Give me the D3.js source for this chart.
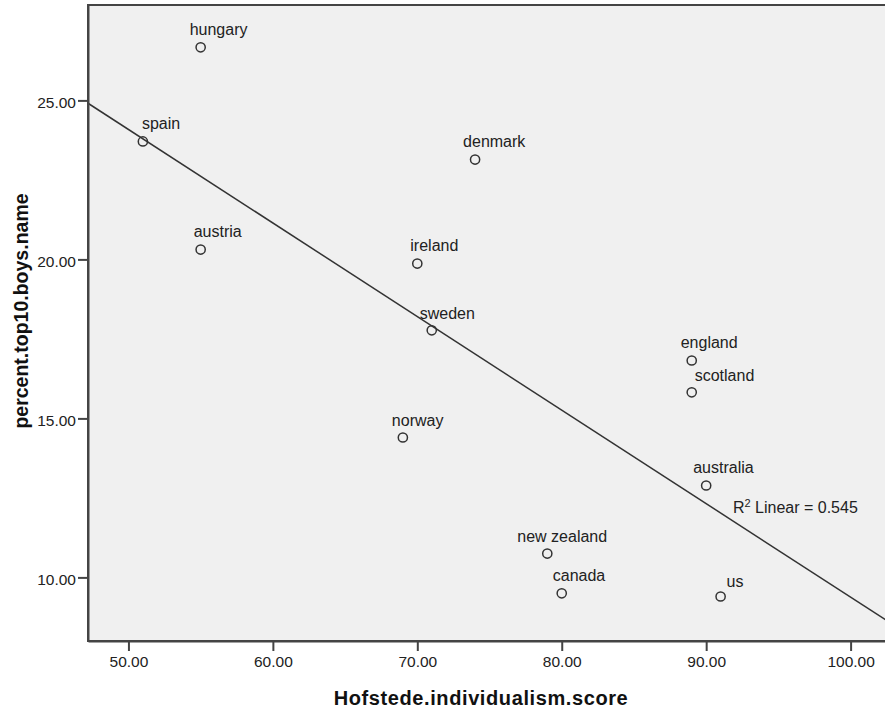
<!DOCTYPE html>
<html>
<head>
<meta charset="utf-8">
<script src="https://cdn.jsdelivr.net/npm/d3@7/dist/d3.min.js"></script>
<style>
  html, body { margin: 0; padding: 0; background: #ffffff; }
  svg { display: block; font-family: "Liberation Sans", Arial, sans-serif; }
</style>
</head>
<body>
<svg id="chart" width="885" height="710"></svg>
<script>
// ---- data ----
const countries = ["hungary", "spain", "austria", "denmark", "ireland", "sweden", "norway",
                   "england", "scotland", "australia", "new zealand", "canada", "us"];
const individualism = [55, 51, 55, 74, 70, 71, 69, 89, 89, 90, 79, 80, 91];
const percentTop10 = [26.67, 23.71, 20.31, 23.14, 19.87, 17.77, 14.40, 16.82, 15.82, 12.89, 10.75, 9.50, 9.40];
const xTicks = [50, 60, 70, 80, 90, 100];
const yTicks = [10, 15, 20, 25];
const xTitle = "Hofstede.individualism.score";
const yTitle = "percent.top10.boys.name";

// label placement offsets (pixels, relative to marker centre)
const labelDx = [-11, -1, -7, -12, -7, -12, -11, -11, 3, -13, -30, -9, 6];
const labelDy = [-12.5, -12.5, -12.5, -12.5, -12.5, -11.5, -11.5, -12.5, -11.5, -12, -11.5, -12, -9.5];

// ---- layout ----
const svg = d3.select("#chart");
const plotL = 88, plotR = 887, plotT = 5, plotB = 641;

const x = d3.scaleLinear().domain([47.2, 102.52]).range([plotL, plotR]);
const y = d3.scaleLinear().domain([8, 28]).range([plotB, plotT]);

const textColor = "#222222";
const lineColor = "#444444";

// plot background
svg.append("rect")
  .attr("x", plotL).attr("y", plotT)
  .attr("width", plotR - plotL).attr("height", plotB - plotT)
  .attr("fill", "#f0f0f0")
  .attr("stroke", lineColor).attr("stroke-width", 2);

// regression (least squares)
const pts = individualism.map((v, i) => [v, percentTop10[i]]);
const mx = d3.mean(individualism), my = d3.mean(percentTop10);
const sxy = d3.sum(pts, p => (p[0] - mx) * (p[1] - my));
const sxx = d3.sum(pts, p => (p[0] - mx) ** 2);
const syy = d3.sum(pts, p => (p[1] - my) ** 2);
const slope = sxy / sxx, intercept = my - slope * mx;
const r2 = (sxy * sxy) / (sxx * syy);

const [x0, x1] = x.domain();
svg.append("line")
  .attr("x1", x(x0)).attr("y1", y(intercept + slope * x0))
  .attr("x2", x(x1)).attr("y2", y(intercept + slope * x1))
  .attr("stroke", "#333333").attr("stroke-width", 1.5);

// axes
const fmt = d3.format(".2f");
const xAxis = svg.append("g")
  .attr("transform", `translate(0,${plotB})`)
  .call(d3.axisBottom(x).tickValues(xTicks).tickFormat(fmt).tickSize(10).tickPadding(5).tickSizeOuter(0));
const yAxis = svg.append("g")
  .attr("transform", `translate(${plotL},0)`)
  .call(d3.axisLeft(y).tickValues(yTicks).tickFormat(fmt).tickSize(10).tickPadding(2).tickSizeOuter(0));

[xAxis, yAxis].forEach(g => {
  g.select(".domain").attr("stroke", lineColor).attr("stroke-width", 2);
  g.selectAll(".tick line").attr("stroke", lineColor).attr("stroke-width", 2);
  g.selectAll(".tick text")
    .attr("fill", textColor)
    .style("font-size", "15.5px")
    .style("font-family", "'Liberation Sans', Arial, sans-serif");
});
yAxis.selectAll(".tick text").attr("dy", "0.45em");

// points
svg.append("g").selectAll("circle")
  .data(pts)
  .join("circle")
  .attr("cx", d => x(d[0]))
  .attr("cy", d => y(d[1]))
  .attr("r", 4.6)
  .attr("fill", "none")
  .attr("stroke", "#333333")
  .attr("stroke-width", 1.5);

// labels
svg.append("g").selectAll("text")
  .data(pts)
  .join("text")
  .attr("x", (d, i) => x(d[0]) + labelDx[i])
  .attr("y", (d, i) => y(d[1]) + labelDy[i])
  .attr("fill", textColor)
  .style("font-size", "16px")
  .text((d, i) => countries[i]);

// R² annotation
const ann = svg.append("text")
  .attr("x", x(91.85))
  .attr("y", y(12.03))
  .attr("fill", textColor)
  .style("font-size", "16px");
ann.append("tspan").text("R");
ann.append("tspan").attr("dy", "-6").style("font-size", "11px").text("2");
ann.append("tspan").attr("dy", "6").text(" Linear = " + r2.toFixed(3));

// axis titles
svg.append("text")
  .attr("x", 481)
  .attr("y", 705)
  .attr("text-anchor", "middle")
  .attr("fill", "#111111")
  .style("font-size", "20px")
  .style("font-weight", "bold")
  .style("letter-spacing", "0.6px")
  .text(xTitle);

svg.append("text")
  .attr("transform", "translate(28,311) rotate(-90)")
  .attr("text-anchor", "middle")
  .attr("fill", "#111111")
  .style("font-size", "19.5px")
  .style("font-weight", "bold")
  .text(yTitle);
</script>
</body>
</html>
